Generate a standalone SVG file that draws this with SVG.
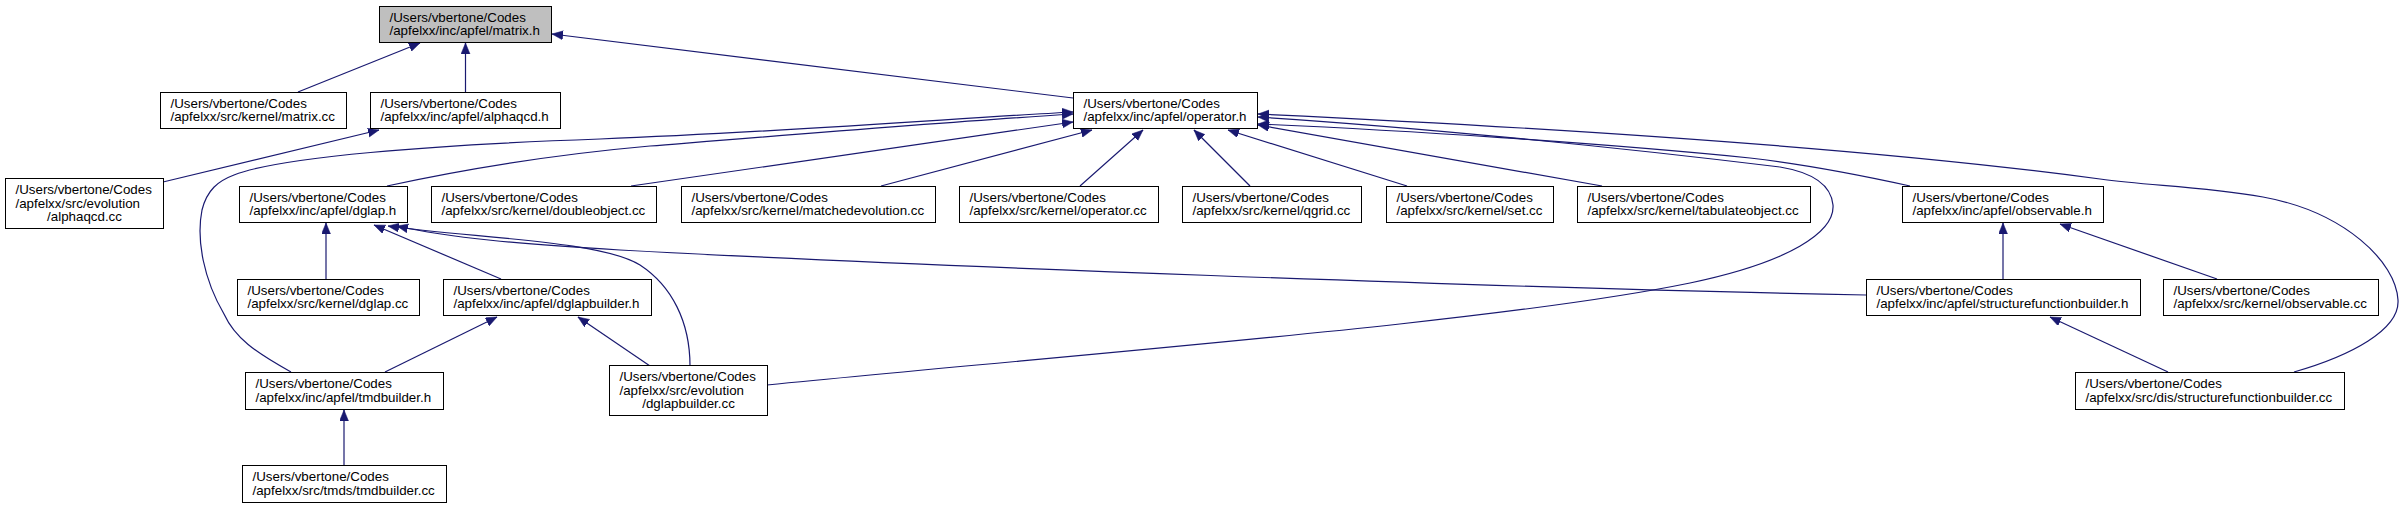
<svg xmlns="http://www.w3.org/2000/svg" width="2405" height="509" viewBox="0 0 2405 509">
<style>
  .node rect { fill: #ffffff; stroke: #000000; stroke-width: 1; }
  .node.root rect { fill: #bfbfbf; }
  .node text { font-family: "Liberation Sans", Arial, Helvetica, sans-serif; font-size: 13.33px; fill: #000000; }
  .node text.c { text-anchor: middle; }
  #edges path { fill: none; stroke: #191970; stroke-width: 1.2; marker-end: url(#arr); }
</style>
<defs>
  <marker id="arr" markerUnits="userSpaceOnUse" markerWidth="12" markerHeight="10" refX="11" refY="4.5" orient="auto">
    <path d="M0,0 L11,4.5 L0,9 z" fill="#191970" stroke="#191970" stroke-width="0.5"/>
  </marker>
</defs>
<rect x="0" y="0" width="2405" height="509" fill="#ffffff"/>
<g id="edges">
  <path d="M298,92 L420,43"/>
  <path d="M465.5,92 L465.5,43"/>
  <path d="M1073,98 L552,34"/>
  <path d="M163,182 L379,130"/>
  <path d="M291,372 C255,352 235,338 224,314 C204,280 196,240 202,210 C207,190 218,181 234,175 C280,157 430,145 600,139 C800,131 960,118 1073,112"/>
  <path d="M387,186 C470,168 560,154 650,146 C800,134 960,121 1073,114"/>
  <path d="M631,186 L1073,122"/>
  <path d="M881,186 L1092,130"/>
  <path d="M1080,186 L1143,130"/>
  <path d="M1250,186 L1194,130"/>
  <path d="M1407,186 L1228,130"/>
  <path d="M1602,186 L1258,125"/>
  <path d="M1910,186 C1860,175 1810,165 1750,158 C1600,143 1400,130 1258,124"/>
  <path d="M2294,372 C2350,356 2400,330 2398,300 C2396,262 2345,212 2263,197 C2200,186 2150,186 2100,179 C1900,152 1600,130 1258,114"/>
  <path d="M767,385 C1100,352 1500,322 1690,283 C1790,262 1835,232 1833,205 C1831,184 1810,172 1780,167 C1600,145 1400,126 1258,117"/>
  <path d="M2217,279 L2060,224"/>
  <path d="M2003,279 L2003,223"/>
  <path d="M2168,372 L2050,317"/>
  <path d="M1866,295 C1500,288 900,265 620,250 C520,244 450,238 397,226"/>
  <path d="M690,366 C690,322 672,286 640,265 C600,240 470,238 388,226"/>
  <path d="M326,279 L326,223"/>
  <path d="M501,279 L374,225"/>
  <path d="M385,372 L497,317"/>
  <path d="M650,366 L578,317"/>
  <path d="M344,465 L344,410"/>
</g>
<g id="n_matrix_h" class="node root">
  <rect x="379.5" y="6.5" width="172" height="36"/>
  <text x="389.5" y="21.5">/Users/vbertone/Codes</text>
  <text x="389.5" y="35">/apfelxx/inc/apfel/matrix.h</text>
</g>
<g id="n_matrix_cc" class="node">
  <rect x="160.5" y="92.5" width="186" height="36"/>
  <text x="170.5" y="107.5">/Users/vbertone/Codes</text>
  <text x="170.5" y="121">/apfelxx/src/kernel/matrix.cc</text>
</g>
<g id="n_alphaqcd_h" class="node">
  <rect x="370.5" y="92.5" width="190" height="36"/>
  <text x="380.5" y="107.5">/Users/vbertone/Codes</text>
  <text x="380.5" y="121">/apfelxx/inc/apfel/alphaqcd.h</text>
</g>
<g id="n_operator_h" class="node">
  <rect x="1073.5" y="92.5" width="184" height="36"/>
  <text x="1083.5" y="107.5">/Users/vbertone/Codes</text>
  <text x="1083.5" y="121">/apfelxx/inc/apfel/operator.h</text>
</g>
<g id="n_alphaqcd_cc" class="node">
  <rect x="5.5" y="178.5" width="158" height="50"/>
  <text x="15.5" y="194">/Users/vbertone/Codes</text>
  <text x="15.5" y="207.5">/apfelxx/src/evolution</text>
  <text class="c" x="84.5" y="221">/alphaqcd.cc</text>
</g>
<g id="n_dglap_h" class="node">
  <rect x="239.5" y="186.5" width="168" height="36"/>
  <text x="249.5" y="201.5">/Users/vbertone/Codes</text>
  <text x="249.5" y="215">/apfelxx/inc/apfel/dglap.h</text>
</g>
<g id="n_doubleobject_cc" class="node">
  <rect x="431.5" y="186.5" width="225" height="36"/>
  <text x="441.5" y="201.5">/Users/vbertone/Codes</text>
  <text x="441.5" y="215">/apfelxx/src/kernel/doubleobject.cc</text>
</g>
<g id="n_matchedevolution_cc" class="node">
  <rect x="681.5" y="186.5" width="254" height="36"/>
  <text x="691.5" y="201.5">/Users/vbertone/Codes</text>
  <text x="691.5" y="215">/apfelxx/src/kernel/matchedevolution.cc</text>
</g>
<g id="n_operator_cc" class="node">
  <rect x="959.5" y="186.5" width="199" height="36"/>
  <text x="969.5" y="201.5">/Users/vbertone/Codes</text>
  <text x="969.5" y="215">/apfelxx/src/kernel/operator.cc</text>
</g>
<g id="n_qgrid_cc" class="node">
  <rect x="1182.5" y="186.5" width="179" height="36"/>
  <text x="1192.5" y="201.5">/Users/vbertone/Codes</text>
  <text x="1192.5" y="215">/apfelxx/src/kernel/qgrid.cc</text>
</g>
<g id="n_set_cc" class="node">
  <rect x="1386.5" y="186.5" width="167" height="36"/>
  <text x="1396.5" y="201.5">/Users/vbertone/Codes</text>
  <text x="1396.5" y="215">/apfelxx/src/kernel/set.cc</text>
</g>
<g id="n_tabulateobject_cc" class="node">
  <rect x="1577.5" y="186.5" width="233" height="36"/>
  <text x="1587.5" y="201.5">/Users/vbertone/Codes</text>
  <text x="1587.5" y="215">/apfelxx/src/kernel/tabulateobject.cc</text>
</g>
<g id="n_observable_h" class="node">
  <rect x="1902.5" y="186.5" width="201" height="36"/>
  <text x="1912.5" y="201.5">/Users/vbertone/Codes</text>
  <text x="1912.5" y="215">/apfelxx/inc/apfel/observable.h</text>
</g>
<g id="n_dglap_cc" class="node">
  <rect x="237.5" y="279.5" width="182" height="36"/>
  <text x="247.5" y="294.5">/Users/vbertone/Codes</text>
  <text x="247.5" y="308">/apfelxx/src/kernel/dglap.cc</text>
</g>
<g id="n_dglapbuilder_h" class="node">
  <rect x="443.5" y="279.5" width="208" height="36"/>
  <text x="453.5" y="294.5">/Users/vbertone/Codes</text>
  <text x="453.5" y="308">/apfelxx/inc/apfel/dglapbuilder.h</text>
</g>
<g id="n_structurefunctionbuilder_h" class="node">
  <rect x="1866.5" y="279.5" width="274" height="36"/>
  <text x="1876.5" y="294.5">/Users/vbertone/Codes</text>
  <text x="1876.5" y="308">/apfelxx/inc/apfel/structurefunctionbuilder.h</text>
</g>
<g id="n_observable_cc" class="node">
  <rect x="2163.5" y="279.5" width="215" height="36"/>
  <text x="2173.5" y="294.5">/Users/vbertone/Codes</text>
  <text x="2173.5" y="308">/apfelxx/src/kernel/observable.cc</text>
</g>
<g id="n_tmdbuilder_h" class="node">
  <rect x="245.5" y="372.5" width="198" height="37"/>
  <text x="255.5" y="388">/Users/vbertone/Codes</text>
  <text x="255.5" y="401.5">/apfelxx/inc/apfel/tmdbuilder.h</text>
</g>
<g id="n_dglapbuilder_cc" class="node">
  <rect x="609.5" y="365.5" width="158" height="50"/>
  <text x="619.5" y="381">/Users/vbertone/Codes</text>
  <text x="619.5" y="394.5">/apfelxx/src/evolution</text>
  <text class="c" x="688.5" y="408">/dglapbuilder.cc</text>
</g>
<g id="n_structurefunctionbuilder_cc" class="node">
  <rect x="2075.5" y="372.5" width="269" height="37"/>
  <text x="2085.5" y="388">/Users/vbertone/Codes</text>
  <text x="2085.5" y="401.5">/apfelxx/src/dis/structurefunctionbuilder.cc</text>
</g>
<g id="n_tmdbuilder_cc" class="node">
  <rect x="242.5" y="465.5" width="204" height="37"/>
  <text x="252.5" y="481">/Users/vbertone/Codes</text>
  <text x="252.5" y="494.5">/apfelxx/src/tmds/tmdbuilder.cc</text>
</g>
</svg>
